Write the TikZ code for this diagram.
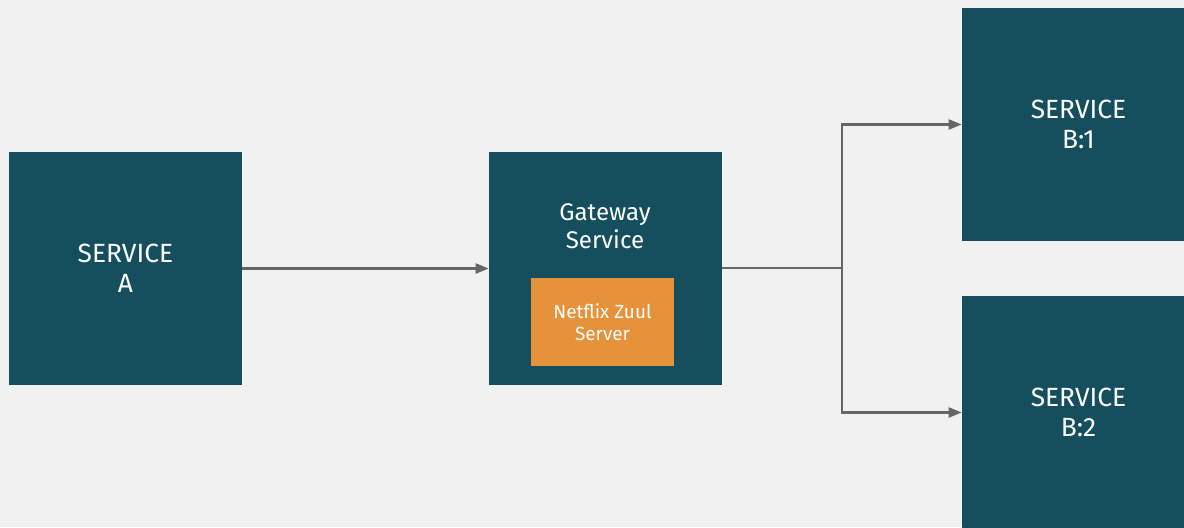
\documentclass[tikz,border=0pt]{standalone}
\usepackage{fontspec}
\setmainfont{Fira Sans}
\usetikzlibrary{arrows.meta,positioning,calc}
\definecolor{teal}{HTML}{154F5D}
\definecolor{zuul}{HTML}{E5923A}
\definecolor{paper}{HTML}{F1F1F1}
\definecolor{wire}{HTML}{666666}
\begin{document}
\begin{tikzpicture}[font=\fontsize{15}{17}\selectfont]
            \tikzset{service/.style={fill=teal, text=white, minimum size=4.66cm, align=center, inner sep=0pt},
                flow/.style={draw=wire, line width=1.3pt, -{Triangle[length=0.26cm, width=0.2cm]}}}

            % canvas
            \fill[paper] (0,0) rectangle (23.68,-10.54);
            \useasboundingbox (0,0) rectangle (23.68,-10.54);
            \clip (0,0) rectangle (23.68,-10.54);

            % services
            \node[service] (svcA) at (2.51,-5.37) {SERVICE\\A};
            \node[service] (gw) at (12.11,-5.37) {};
            \node[text=white, align=center, font=\fontsize{13.7}{16}\selectfont] (gwtext) at (12.1,-4.53) {Gateway\\Service};
            \node[fill=zuul, text=white, minimum width=2.86cm, minimum height=1.76cm, align=center,
                font=\fontsize{10.8}{12.8}\selectfont] (zuul) at (12.05,-6.44) {Netflix Zuul\\Server};
            \node[service] (svcB1) at (21.57,-2.49) {SERVICE\\B:1};
            \node[service] (svcB2) at (21.57,-8.25) {SERVICE\\B:2};

            % connectors
            \coordinate (split) at (16.84,-5.36);
            \draw[flow] (svcA.east) -- (gw.west);
            \draw[draw=wire, line width=1.3pt] (gw.east |- split) -- (split);
            \draw[flow] (split) |- (svcB1.west);
            \draw[flow] (split) |- (svcB2.west);

        \end{tikzpicture}
\end{document}
